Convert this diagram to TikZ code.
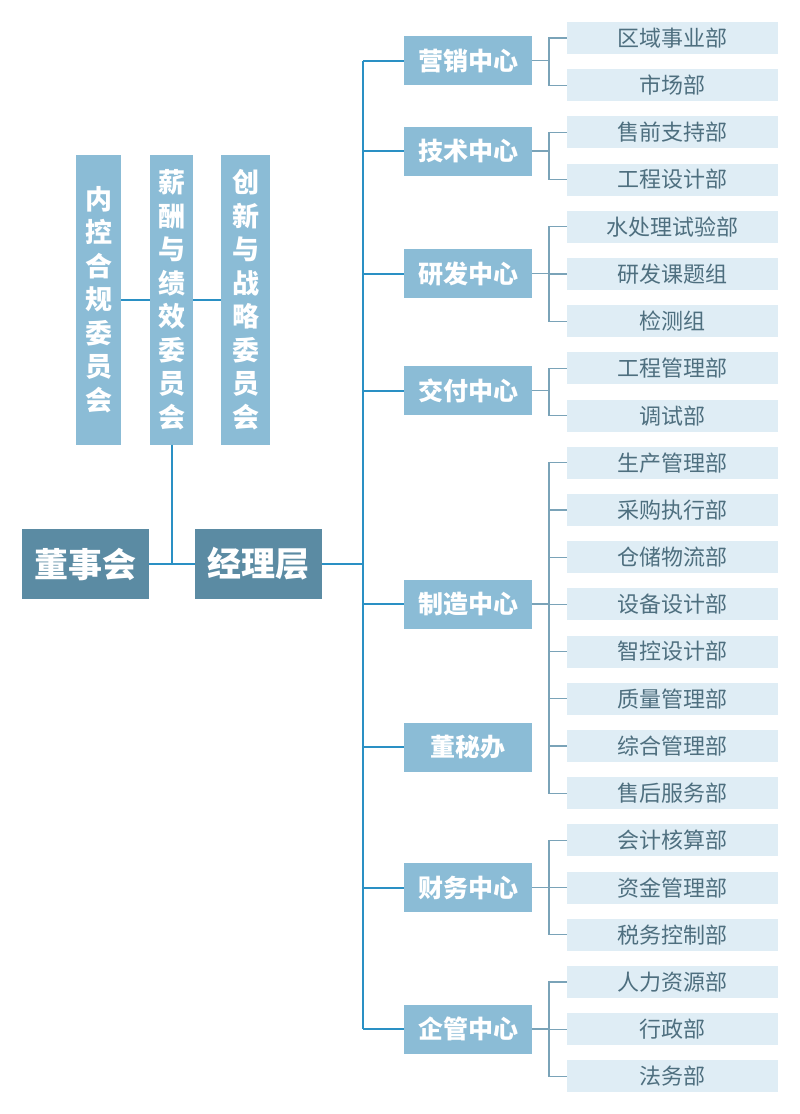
\documentclass[tikz,border=0pt]{standalone}
\usepackage{fontspec}
\setmainfont{Noto Sans CJK SC}
\usetikzlibrary{positioning}
\definecolor{deep}{HTML}{5B8BA3}
\definecolor{midblue}{HTML}{8BBCD6}
\definecolor{pale}{HTML}{DFEDF5}
\definecolor{trunkc}{HTML}{2A90C4}
\definecolor{brkc}{HTML}{7AA3B8}
\definecolor{subtxt}{HTML}{4E6F7F}
\tikzset{
  top/.style={fill=deep,text=white,font=\bfseries\fontsize{34}{34}\selectfont,minimum width=127pt,minimum height=70pt,inner sep=0pt},
  cmt/.style={fill=midblue,text=white,font=\bfseries\fontsize{27}{33.5}\selectfont,align=center,minimum height=290pt,inner sep=0pt},
  mid/.style={fill=midblue,text=white,font=\bfseries\fontsize{25}{25}\selectfont,minimum width=128pt,minimum height=49pt,inner sep=0pt},
  sub/.style={fill=pale,text=subtxt,font=\fontsize{22}{22}\selectfont,minimum width=211pt,minimum height=32pt,inner sep=0pt},
  trunk/.style={draw=trunkc,line width=2pt},
  brk/.style={draw=brkc,line width=1.2pt}
}
\begin{document}
\begin{tikzpicture}[x=1pt,y=-1pt]
\useasboundingbox (0,0) rectangle (800,1114);

\node[cmt,minimum width=45pt] (c1) at (98.5,299.5) {内\\控\\合\\规\\委\\员\\会};
\node[cmt,minimum width=43pt] (c2) at (171.5,299.5) {薪\\酬\\与\\绩\\效\\委\\员\\会};
\node[cmt,minimum width=49pt] (c3) at (245.5,299.5) {创\\新\\与\\战\\略\\委\\员\\会};
\node[top] (board) at (85.5,564) {董事会};
\node[top] (mgr) at (258.5,564) {经理层};

\coordinate (tk) at (363,0);
\coordinate (bx) at (549,0);

\foreach \t/\y [count=\i] in {营销中心/60.5,技术中心/151,研发中心/273.5,交付中心/390.5,制造中心/604,董秘办/747,财务中心/887.5,企管中心/1029}
  \node[mid] (m\i) at (468,\y) {\t};

\foreach \t [count=\i from 0] in {区域事业部,市场部,售前支持部,工程设计部,水处理试验部,研发课题组,检测组,工程管理部,调试部,生产管理部,采购执行部,仓储物流部,设备设计部,智控设计部,质量管理部,综合管理部,售后服务部,会计核算部,资金管理部,税务控制部,人力资源部,行政部,法务部}
  \node[sub] (s\i) at (672.5,{38+47.2*\i}) {\t};

\draw[trunk] (c1.east) -- (c2.west);
\draw[trunk] (c2.east) -- (c3.west);
\draw[trunk] (c2.south) -- (c2.south |- board.east);
\draw[trunk] (board.east) -- (mgr.west);
\draw[trunk] (mgr.east) -- (mgr.east -| tk);
\draw[trunk] (m1.west -| tk) -- (m8.west -| tk);
\foreach \i in {1,...,8}
  \draw[trunk] (m\i.west) -- (m\i.west -| tk);

\foreach \i in {1,2,3,4,5,7,8}
  \draw[brk] (m\i.east) -- (m\i.east -| bx);
\foreach \a/\b in {0/1,2/3,4/6,7/8,9/16,17/19,20/22}
  \draw[brk] (s\a.west) -- (s\a.west -| bx) -- (s\b.west -| bx) -- (s\b.west);
\foreach \i in {5,10,11,12,13,14,15,18,21}
  \draw[brk] (s\i.west) -- (s\i.west -| bx);
\end{tikzpicture}
\end{document}
